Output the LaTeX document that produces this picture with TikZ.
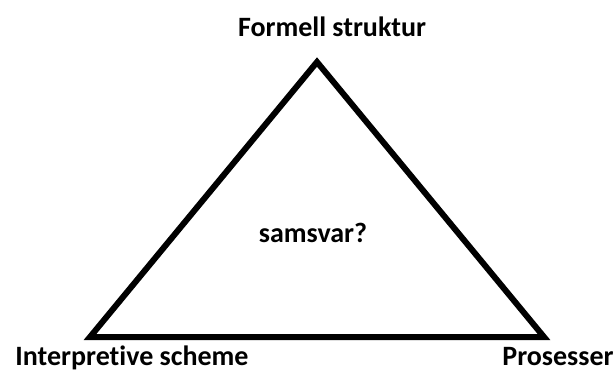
\documentclass[tikz,border=0pt]{standalone}
\usepackage{fontspec}
\setmainfont{Carlito}[Ligatures=NoCommon]
\usepackage{tikz}

\begin{document}
\begin{tikzpicture}[x=1pt, y=-1pt, lbl/.style={font=\fontsize{28}{32}\selectfont\bfseries, inner sep=0pt, anchor=base}, side/.style={line width=6pt, line join=miter}]
\useasboundingbox (0,0) rectangle (614,372);
\coordinate (top) at (317,62);
\coordinate (left) at (90,337);
\coordinate (right) at (544,337);
\draw[side] (top) -- (left) -- (right) -- cycle;
\node[lbl] (formell) at (332,37) {Formell struktur};
\node[lbl] (samsvar) at (313,242) {samsvar?};
\node[lbl] (interp) at (132,365) {Interpretive scheme};
\node[lbl] (prosess) at (558,365) {Prosesser};
\end{tikzpicture}
\end{document}
